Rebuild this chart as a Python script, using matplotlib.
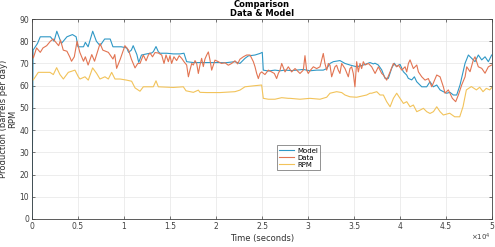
import matplotlib
matplotlib.use("Agg")
import matplotlib.pyplot as plt

# ---- data (time in units of 1e4 seconds) ----
model_t = [0.0, 0.012, 0.06, 0.09, 0.2, 0.24, 0.27, 0.32, 0.38, 0.44, 0.48, 0.5, 0.56, 0.58, 0.61,
           0.66, 0.7, 0.74, 0.79, 0.85, 0.88, 0.97, 1.03, 1.05, 1.08, 1.1, 1.14, 1.16, 1.19,
           1.246, 1.3, 1.319, 1.348, 1.373, 1.391, 1.464, 1.536, 1.609, 1.652, 1.681, 1.754,
           1.899, 2.044, 2.098, 2.206, 2.26, 2.315, 2.351, 2.424, 2.478, 2.503, 2.514, 2.569,
           2.641, 2.696, 2.75, 2.822, 2.876, 2.949, 3.021, 3.094, 3.166, 3.203, 3.239, 3.275,
           3.347, 3.402, 3.456, 3.529, 3.601, 3.674, 3.71, 3.728, 3.764, 3.801, 3.837, 3.873,
           3.909, 3.938, 3.964, 4.0, 4.036, 4.072, 4.09, 4.127, 4.156, 4.181, 4.236, 4.29,
           4.326, 4.362, 4.399, 4.435, 4.471, 4.507, 4.543, 4.58, 4.616, 4.652, 4.707, 4.743,
           4.779, 4.815, 4.851, 4.888, 4.924, 4.96, 4.996]
model_v = [0.0, 76.0, 79.0, 82.0, 82.0, 80.0, 84.5, 79.0, 82.0, 83.0, 82.0, 77.5, 77.5, 79.5, 77.5,
           84.5, 80.0, 78.0, 81.0, 81.0, 77.5, 77.5, 77.0, 75.0, 76.0, 78.0, 74.0, 70.5, 73.8,
           74.3, 74.7, 75.3, 77.6, 75.3, 74.6, 74.6, 74.3, 74.3, 74.6, 70.8, 70.4,
           70.4, 70.4, 70.3, 70.8, 70.0, 72.3, 73.4, 73.8, 74.5, 75.0, 67.0, 66.6,
           67.0, 66.7, 67.0, 66.8, 67.0, 67.3, 66.7, 67.0, 67.0, 67.7, 70.0, 70.8,
           71.3, 70.0, 69.3, 68.5, 69.3, 70.4, 69.8, 70.1, 69.3, 67.1, 63.3, 63.3,
           67.8, 70.1, 68.6, 69.6, 66.3, 64.8, 63.3, 62.6, 64.0, 61.8, 59.5, 59.5,
           61.8, 59.5, 60.3, 58.1, 57.3, 56.6, 57.0, 55.8, 55.8, 60.3, 70.1, 73.8,
           72.3, 70.8, 73.8, 71.6, 73.0, 70.8, 73.8]

data_t = [0.0, 0.015, 0.05, 0.09, 0.12, 0.16, 0.2, 0.23, 0.27, 0.29, 0.31, 0.34, 0.38, 0.41, 0.43,
          0.46, 0.49, 0.52, 0.56, 0.58, 0.61, 0.65, 0.68, 0.74, 0.77, 0.83, 0.88, 0.9, 0.92,
          0.96, 1.01, 1.05, 1.08, 1.12, 1.15, 1.174, 1.21, 1.24, 1.265, 1.283, 1.31, 1.337,
          1.373, 1.41, 1.435, 1.457, 1.482, 1.5, 1.518, 1.543, 1.572, 1.6, 1.627, 1.652, 1.681,
          1.7, 1.717, 1.736, 1.754, 1.772, 1.79, 1.808, 1.826, 1.844, 1.862, 1.88, 1.899, 1.917,
          1.935, 1.953, 1.971, 1.989, 2.025, 2.06, 2.098, 2.134, 2.17, 2.206, 2.235, 2.26, 2.297,
          2.333, 2.37, 2.406, 2.424, 2.442, 2.46, 2.478, 2.496, 2.532, 2.569, 2.605, 2.634, 2.659,
          2.677, 2.696, 2.714, 2.75, 2.786, 2.822, 2.859, 2.876, 2.913, 2.949, 2.967, 2.985,
          3.003, 3.021, 3.058, 3.094, 3.13, 3.148, 3.166, 3.184, 3.203, 3.221, 3.239, 3.257,
          3.275, 3.293, 3.311, 3.329, 3.347, 3.366, 3.402, 3.438, 3.456, 3.474, 3.492, 3.51,
          3.529, 3.547, 3.565, 3.583, 3.601, 3.62, 3.656, 3.692, 3.729, 3.765, 3.801, 3.819,
          3.855, 3.892, 3.928, 3.964, 3.982, 4.019, 4.055, 4.073, 4.091, 4.109, 4.145, 4.182,
          4.2, 4.236, 4.272, 4.308, 4.345, 4.399, 4.435, 4.471, 4.489, 4.525, 4.569, 4.605,
          4.634, 4.67, 4.707, 4.725, 4.761, 4.797, 4.815, 4.851, 4.888, 4.924, 4.96, 4.996]
data_v = [74.5, 72.5, 77.0, 75.0, 77.0, 78.0, 80.0, 81.0, 79.0, 78.0, 80.5, 76.0, 75.5, 73.0, 71.0,
          73.0, 80.0, 75.0, 71.0, 73.0, 69.3, 74.0, 71.0, 79.0, 76.0, 75.0, 72.0, 74.0, 67.8,
          72.0, 78.0, 76.0, 72.0, 68.0, 70.0, 70.0, 73.8, 71.2, 73.8, 74.7, 73.0, 74.9,
          74.7, 73.8, 70.0, 73.8, 70.8, 73.5, 70.0, 73.0, 71.3, 73.5, 72.3, 70.8, 69.3,
          64.0, 67.0, 70.0, 69.3, 71.3, 70.0, 65.5, 69.3, 72.3, 68.6, 72.0, 73.8, 75.2,
          71.5, 67.0, 69.3, 71.5, 70.8, 70.0, 70.3, 69.2, 70.0, 71.2, 69.8, 71.9, 73.0,
          73.8, 73.8, 70.8, 68.5, 65.5, 63.2, 65.5, 66.2, 65.0, 67.0, 66.2, 65.5, 63.2,
          65.5, 67.0, 70.0, 66.2, 68.5, 66.2, 67.7, 67.0, 65.5, 67.0, 73.5, 67.0,
          65.5, 66.7, 68.5, 67.7, 68.5, 71.6, 74.5, 70.0, 67.0, 70.0, 69.2, 64.0,
          66.2, 68.5, 69.2, 67.0, 65.5, 70.0, 67.7, 64.0, 67.7, 68.5, 65.5, 59.5,
          70.8, 66.2, 70.0, 67.7, 70.8, 69.3, 70.0, 68.5, 65.5, 68.5, 65.5, 64.8,
          62.5, 66.2, 70.0, 68.5, 69.3, 67.0, 68.5, 66.2, 70.0, 71.6, 67.7, 69.3,
          66.2, 64.0, 62.5, 63.2, 59.5, 64.8, 64.0, 59.5, 56.6, 58.1, 54.3, 52.8,
          55.8, 60.3, 64.0, 68.5, 66.3, 71.6, 73.0, 68.5, 67.8, 65.6, 68.5, 69.3]

rpm_t = [0.014, 0.069, 0.196, 0.232, 0.268, 0.304, 0.341, 0.395, 0.467, 0.504, 0.522, 0.576,
         0.612, 0.659, 0.703, 0.739, 0.793, 0.83, 0.866, 0.902, 0.957, 1.029, 1.083, 1.12,
         1.174, 1.21, 1.246, 1.319, 1.348, 1.373, 1.536, 1.645, 1.674, 1.754, 1.808, 1.826,
         1.899, 2.044, 2.206, 2.26, 2.315, 2.424, 2.496, 2.514, 2.569, 2.641, 2.714, 2.786,
         2.804, 2.913, 3.021, 3.13, 3.203, 3.239, 3.311, 3.366, 3.402, 3.456, 3.529, 3.637,
         3.674, 3.692, 3.747, 3.783, 3.819, 3.855, 3.892, 3.928, 3.964, 4.0, 4.037, 4.073,
         4.109, 4.145, 4.182, 4.218, 4.254, 4.29, 4.326, 4.363, 4.399, 4.435, 4.471, 4.54,
         4.594, 4.649, 4.685, 4.721, 4.775, 4.83, 4.866, 4.902, 4.938, 4.975, 5.0]
rpm_v = [62.6, 66.0, 66.0, 65.0, 68.1, 65.0, 63.0, 66.0, 67.0, 64.0, 63.0, 64.0,
         62.5, 68.0, 65.5, 63.0, 64.0, 63.0, 66.0, 63.0, 63.0, 62.5, 62.0, 59.0,
         57.5, 59.5, 59.5, 59.5, 62.2, 59.5, 59.2, 59.5, 57.7, 57.0, 58.0, 57.0,
         56.9, 56.9, 57.3, 58.0, 59.5, 60.0, 60.3, 54.3, 53.9, 53.9, 54.6, 54.3,
         54.3, 53.9, 54.3, 53.9, 54.8, 56.6, 57.3, 56.9, 55.8, 55.0, 54.8, 55.8,
         56.6, 56.6, 57.3, 55.8, 55.8, 52.8, 50.5, 54.3, 56.6, 54.3, 52.0, 52.8,
         50.5, 51.3, 48.3, 49.0, 49.8, 48.3, 47.5, 48.3, 50.5, 48.3, 46.8, 47.6,
         46.0, 46.0, 50.6, 58.1, 59.6, 58.1, 59.3, 57.3, 58.8, 58.1, 59.3]

series_names = ["Model", "Data", "RPM"]
x_tick_labels = ["0", "0.5", "1", "1.5", "2", "2.5", "3", "3.5", "4", "4.5", "5"]
y_ticks = [0, 10, 20, 30, 40, 50, 60, 70, 80, 90]

colors = ["#2f98c6", "#e27452", "#f2c35a"]

fig = plt.figure(figsize=(4.95, 2.47), dpi=100)
ax = fig.add_axes([0.0646, 0.1134, 0.9294, 0.8096])

scale = 1e4
for tt, vv, name, c in zip([model_t, data_t, rpm_t], [model_v, data_v, rpm_v], series_names, colors):
    ax.plot([t * scale for t in tt], vv, color=c, lw=0.8, label=name)

ax.set_xlim(0, 5e4)
ax.set_ylim(0, 90)
ax.set_xticks([i * 5000 for i in range(len(x_tick_labels))])
ax.set_xticklabels(x_tick_labels)
ax.set_yticks(y_ticks)
ax.grid(True, color="#e6e6e6", lw=0.5)
ax.set_axisbelow(True)
ax.tick_params(direction="in", length=2.5, width=0.5, labelsize=5.5, colors="#404040",
               top=True, right=True, pad=2)
for s in ax.spines.values():
    s.set_color("#404040")
    s.set_linewidth(0.6)

ax.text(0.998, -0.09, r"$\times10^4$", transform=ax.transAxes, ha="right", va="center",
        fontsize=5, color="#404040")
ax.set_xlabel("Time (seconds)", fontsize=6, color="#303030", labelpad=2)
ax.set_ylabel("Production (barrels per day)\nRPM", fontsize=6, color="#303030", labelpad=2,
              linespacing=1.0)
ax.set_title("Comparison\nData & Model", fontsize=6, fontweight="bold", pad=2, linespacing=1.1)

leg = ax.legend(loc="upper left", bbox_to_anchor=(0.525, 0.385), fontsize=5,
                frameon=True, fancybox=False, edgecolor="#404040", handlelength=2.2,
                borderpad=0.3, labelspacing=0.15, handletextpad=0.4)
leg.get_frame().set_linewidth(0.5)

fig.savefig("out.png", dpi=100)
